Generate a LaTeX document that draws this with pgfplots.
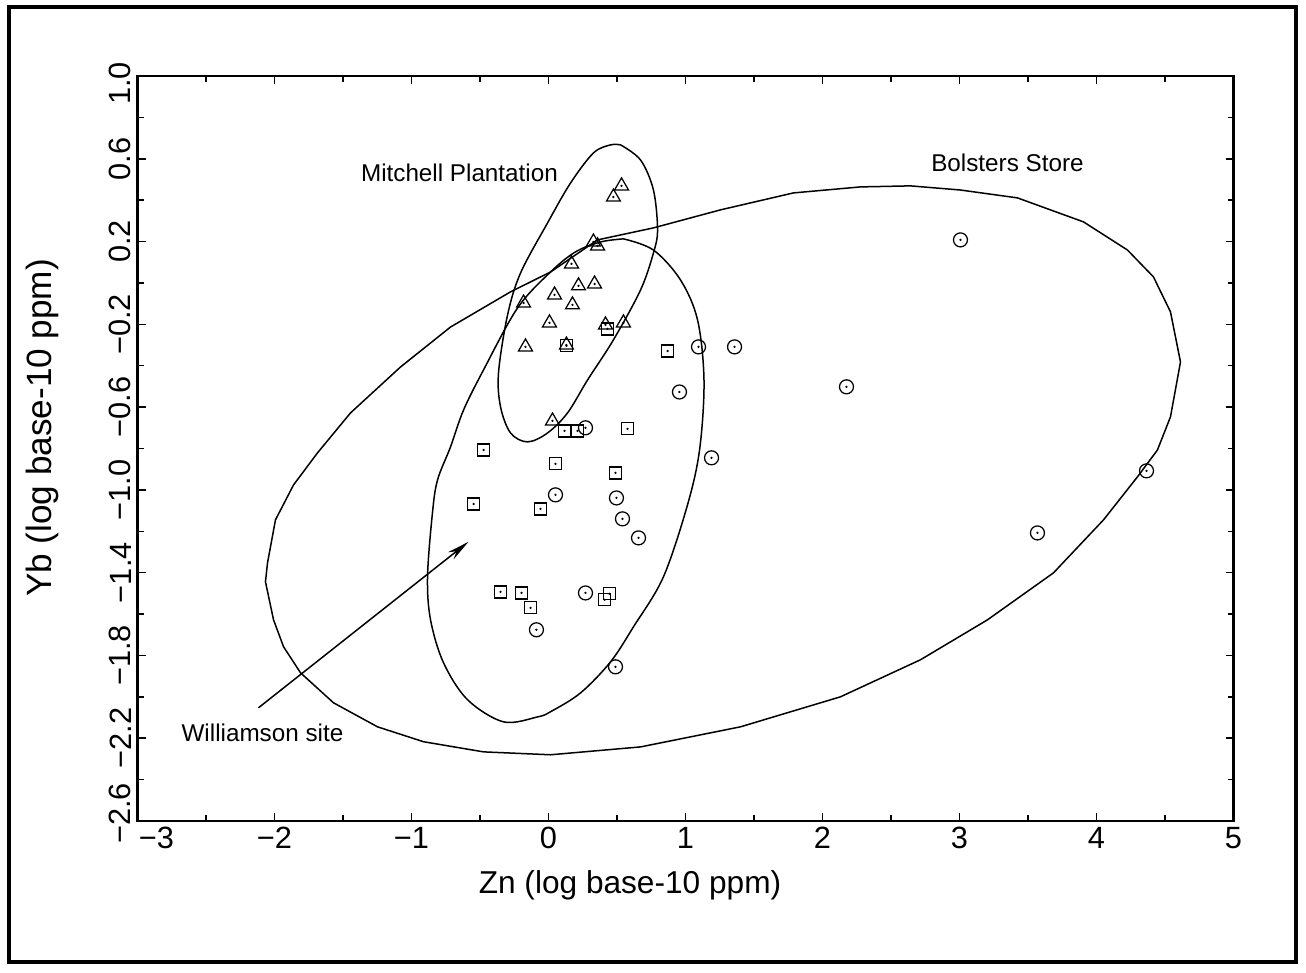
\documentclass[border=0pt]{standalone}
\usepackage{pgfplots}
\pgfplotsset{compat=1.18}
\usepackage{pgfplotstable}
\usepackage{fontspec}
\setmainfont{Liberation Sans}
\usetikzlibrary{arrows.meta}

% Mitchell Plantation (triangles)
\pgfplotstableread{
x y
0.533 0.469
0.474 0.415
0.328 0.198
0.358 0.179
0.168 0.092
0.219 -0.014
0.336 -0.005
0.044 -0.058
0.175 -0.106
-0.182 -0.097
0.007 -0.193
0.416 -0.203
0.547 -0.193
-0.168 -0.309
0.131 -0.300
0.029 -0.667
}\mitchell

% Williamson site (squares)
\pgfplotstableread{
x y
0.431 -0.222
0.131 -0.304
0.869 -0.329
0.117 -0.715
0.212 -0.715
0.577 -0.705
-0.474 -0.807
0.051 -0.874
0.489 -0.918
-0.547 -1.068
-0.058 -1.092
-0.350 -1.493
-0.197 -1.498
-0.131 -1.570
0.445 -1.502
0.409 -1.531
}\williamson

% Bolsters Store (circles)
\pgfplotstableread{
x y
0.270 -0.700
0.051 -1.024
0.496 -1.039
0.540 -1.140
0.657 -1.232
0.270 -1.498
-0.088 -1.676
0.489 -1.855
1.190 -0.845
1.095 -0.309
1.358 -0.309
0.956 -0.527
2.175 -0.502
3.007 0.208
4.365 -0.908
3.569 -1.208
}\bolsters

% Ellipse outlines
\pgfplotstableread{
x y
-2.066 -1.444
-2.051 -1.353
-1.993 -1.145
-1.861 -0.976
-1.686 -0.821
-1.445 -0.628
-1.080 -0.406
-0.715 -0.213
-0.277 -0.043
0.015 0.053
0.358 0.208
0.766 0.266
1.255 0.353
1.788 0.435
2.277 0.464
2.642 0.469
3.007 0.449
3.423 0.411
3.905 0.295
4.226 0.159
4.416 0.029
4.540 -0.140
4.613 -0.382
4.540 -0.647
4.445 -0.807
4.299 -0.937
4.051 -1.145
3.686 -1.401
3.204 -1.628
2.715 -1.821
2.131 -2.000
1.401 -2.145
0.672 -2.242
0.015 -2.280
-0.474 -2.266
-0.912 -2.217
-1.248 -2.145
-1.569 -2.029
-1.810 -1.884
-1.934 -1.758
-2.007 -1.628
-2.066 -1.444
}\bolE

\pgfplotstableread{
x y
0.547 0.213
0.766 0.159
0.964 0.014
1.088 -0.179
1.135 -0.469
1.105 -0.795
1.020 -1.060
0.839 -1.420
0.620 -1.662
0.453 -1.831
0.234 -1.981
0.015 -2.072
-0.080 -2.097
-0.328 -2.121
-0.591 -2.014
-0.766 -1.836
-0.861 -1.628
-0.883 -1.420
-0.847 -1.111
-0.810 -0.952
-0.715 -0.792
-0.620 -0.614
-0.474 -0.420
-0.226 -0.121
0.015 0.053
0.197 0.150
0.380 0.198
0.547 0.213
}\wilE

\pgfplotstableread{
x y
0.526 0.667
0.672 0.594
0.766 0.449
0.796 0.256
0.766 0.145
0.672 -0.034
0.474 -0.275
0.285 -0.469
0.139 -0.628
-0.007 -0.725
-0.153 -0.768
-0.277 -0.725
-0.350 -0.599
-0.365 -0.435
-0.299 -0.155
-0.204 0.048
-0.007 0.290
0.161 0.483
0.328 0.628
0.453 0.667
0.526 0.667
}\mitE

\begin{document}
\begin{tikzpicture}
\useasboundingbox (0,0) rectangle (261.2mm,194.6mm);
\draw[line width=0.9mm] (1.8mm,2.2mm) rectangle (259.2mm,193.2mm);
\begin{axis}[
  at={(27.5mm,30.4mm)}, anchor=south west,
  scale only axis, width=219.2mm, height=149mm,
  xmin=-3, xmax=5, ymin=-2.6, ymax=1.0,
  xtick={-3,-2,-1,0,1,2,3,4,5},
  xticklabels={\hspace*{7.6mm}−3,−2,−1,0,1,2,3,4,5},
  minor xtick={-2.5,-1.5,-0.5,0.5,1.5,2.5,3.5,4.5},
  ytick={-2.6,-2.2,-1.8,-1.4,-1.0,-0.6,-0.2,0.2,0.6,1.0},
  yticklabels={\hspace*{3mm}−2.6,−2.2,−1.8,−1.4,−1.0,−0.6,−0.2,0.2,0.6,1.0\hspace*{3mm}},
  minor ytick={-2.4,-2.0,-1.6,-1.2,-0.8,-0.4,0,0.4,0.8},
  tick align=inside,
  major tick length=1.6mm, minor tick length=1.2mm,
  axis line style={line width=0.45mm},
  every tick/.style={line width=0.3mm, black},
  ticklabel style={font=\fontsize{17.5}{20}\selectfont},
  yticklabel style={rotate=90, anchor=south},
  clip=false,
]
\addplot[line width=0.3mm, black, mark=none] table {\bolE};
\addplot[line width=0.3mm, black, mark=none, smooth, tension=0.55] table {\wilE};
\addplot[line width=0.3mm, black, mark=none, smooth, tension=0.55] table {\mitE};

\addplot[only marks, mark=triangle, mark size=1.6mm, mark options={line width=0.25mm, black}] table {\mitchell};
\addplot[only marks, mark=*, mark size=0.15mm, black] table {\mitchell};
\addplot[only marks, mark=square, mark size=1.2mm, mark options={line width=0.25mm, black}] table {\williamson};
\addplot[only marks, mark=*, mark size=0.15mm, black] table {\williamson};
\addplot[only marks, mark=o, mark size=1.4mm, mark options={line width=0.25mm, black}] table {\bolsters};
\addplot[only marks, mark=*, mark size=0.15mm, black] table {\bolsters};

\addplot[line width=0.3mm, black, mark=none, -{Stealth[length=4.5mm, width=1.8mm]}] coordinates {(-2.117,-2.053) (-0.584,-1.251)};

\node[font=\fontsize{13.8}{16}\selectfont] at (axis cs:-0.65,0.531) {Mitchell Plantation};
\node[font=\fontsize{13.8}{16}\selectfont] at (axis cs:3.35,0.580) {Bolsters Store};
\node[font=\fontsize{13.8}{16}\selectfont] at (axis cs:-2.088,-2.174) {Williamson site};
\end{axis}
\node[font=\fontsize{18}{21}\selectfont] at (126mm,17.6mm) {Zn (log base-10 ppm)};
\node[rotate=90, font=\fontsize{20}{23}\selectfont] at (8.4mm,109mm) {Yb (log base-10 ppm)};
\end{tikzpicture}
\end{document}
